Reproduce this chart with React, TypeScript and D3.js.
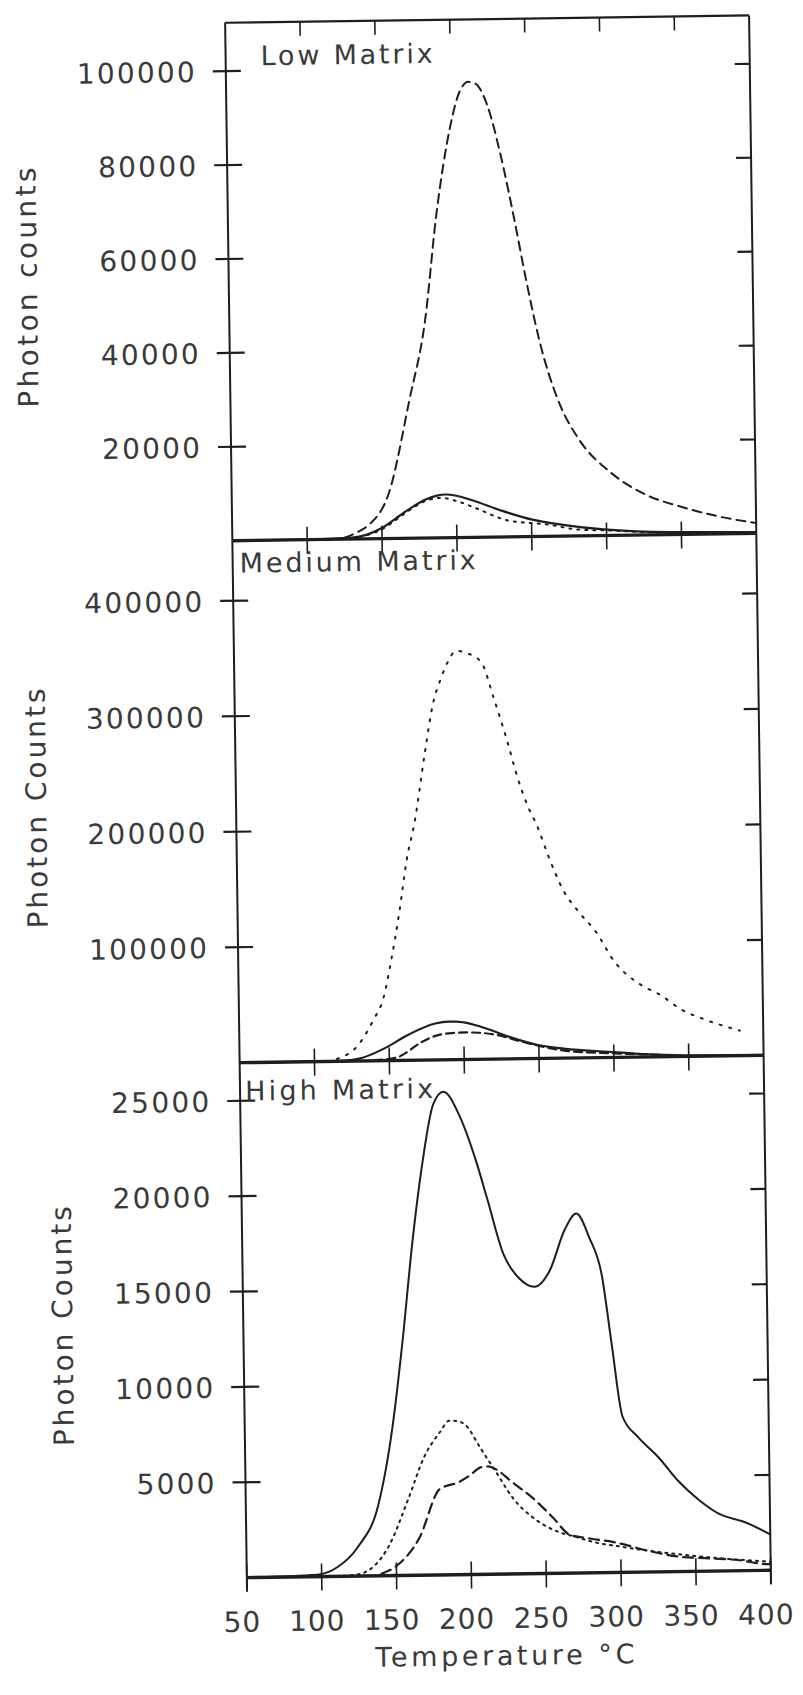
import * as d3 from 'd3';

// temperature (°C) vs photon counts
const lowSolid: [number, number][] = [
  [50, 0], [100, 0], [130, 300], [140, 900], [149.6, 2200], [165, 5500], [178.7, 8100],
  [187, 9000], [193, 9200], [200, 8900], [209.5, 8000], [230, 5600], [250.5, 3600],
  [270.9, 2400], [298.2, 1300], [320, 800], [350, 500], [400, 300],
];
const lowDashed: [number, number][] = [
  [125, 300], [134, 1500], [141, 2900], [155, 9700], [169.6, 29500], [180.7, 46200],
  [189.3, 68900], [199.6, 87900], [206, 95000], [212, 97000], [217, 96500], [223.8, 92400],
  [233.5, 80200], [241.5, 67200], [249.3, 53500], [257.3, 41200], [268.8, 29000],
  [282.3, 20600], [302.6, 13600], [326.4, 8600], [350, 5900], [373.9, 3800], [400, 2200],
];
const lowDotted: [number, number][] = [
  [130, 200], [140, 800], [150, 2000], [165, 5200], [178, 7700], [190, 8500], [200, 7800],
  [213, 6200], [233, 3600], [261, 2500], [280, 1400], [305, 1000], [330, 500], [360, 250],
];

const medSolid: [number, number][] = [
  [50, 0], [100, 0], [120, 500], [130, 2000], [146.5, 10400], [163.6, 22600], [181, 31500],
  [190, 33000], [194.7, 33000], [200, 32200], [211.9, 28000], [232.3, 18200],
  [249.4, 11700], [266.5, 8300], [300.6, 4600], [328, 1900], [350, 800], [400, 500],
];
const medDashed: [number, number][] = [
  [140, 500], [155, 2500], [160, 5600], [170.6, 14800], [181, 20800], [192, 23000],
  [201.5, 23400], [210, 23000], [218.7, 21700], [242.5, 13400], [266, 6700], [300, 3500],
  [325, 2000], [345, 800],
];
const medDotted: [number, number][] = [
  [115, 2000], [129.5, 14000], [139.8, 35500], [146.6, 54000], [151.9, 85000], [158, 128000],
  [163.6, 174500], [169, 205500], [176.7, 267000], [182.3, 307500], [187.6, 329000],
  [193, 345000], [198.2, 354000], [205, 352000], [215, 344000], [223, 313000],
  [231.6, 275600], [238, 244600], [244.5, 219600], [251, 201000], [257.9, 175900],
  [268, 144700], [278.2, 125900], [288.5, 110200], [301.8, 82000], [318, 63100],
  [331.6, 53600], [345, 41000], [362, 31300], [384.4, 21700],
];

const highSolid: [number, number][] = [
  [50, 0], [97, 100], [111, 500], [124.7, 1550], [138.3, 3660], [148.9, 7900], [156, 12150],
  [163.7, 17470], [171.3, 21700], [178.9, 24690], [185.8, 25330], [196.4, 24040],
  [206.9, 21690], [213.8, 19760], [224.4, 16770], [234.8, 15480], [244.8, 15040],
  [255.2, 15880], [265.5, 18000], [273.4, 18840], [282, 17550], [289.8, 15630],
  [295.8, 12000], [302.4, 8170], [312.5, 7090], [326, 6010], [339.4, 4720], [352.7, 3740],
  [366.1, 2990], [383.3, 2540], [400, 1880],
];
const highDashed: [number, number][] = [
  [140, 100], [150, 500], [165.6, 1950], [179.6, 4490], [193.3, 4880], [200, 5200],
  [207.2, 5610], [212, 5650], [217.5, 5490], [227.7, 4840], [241.6, 3970], [255.4, 2890],
  [265.9, 2020], [279.6, 1800], [296.8, 1570], [317.5, 1130], [338.1, 790], [358.6, 670],
  [379.3, 550], [396.4, 330], [400, 320],
];
const highDotted: [number, number][] = [
  [110, 0], [125, 100], [145, 1530], [158.9, 4070], [169.4, 6170], [179.9, 7440],
  [186.9, 8080], [192, 8050], [197.3, 7850], [207.6, 6570], [218, 5280], [228.4, 3980],
  [242.3, 2900], [259.4, 2140], [270, 1900], [280, 1650], [300, 1350], [350, 800], [400, 450],
];

const lowTicks = [20000, 40000, 60000, 80000, 100000];
const medTicks = [100000, 200000, 300000, 400000];
const highTicks = [5000, 10000, 15000, 20000, 25000];
const tempTicks = [50, 100, 150, 200, 250, 300, 350, 400];

const W = 803;
const H = 1695;
const xLeft = 236;
const xRight = 760;
const ink = '#1e1e1e';
const textInk = '#3a3a3a';
const font = 'DejaVu Sans';

const x = d3.scaleLinear().domain([50, 400]).range([xLeft, xRight]);

type Series = { data: [number, number][]; dash?: string; width: number };

const panels = [
  {
    name: 'Low Matrix', nameX: 271, nameY: 62, nameLen: 172,
    yTitle: 'Photon counts', titleX: 34, titleY: 281,
    top: 19, bottom: 537, yMax: 110300, ticks: lowTicks,
    series: [
      { data: lowDotted, dash: '2,6', width: 2 },
      { data: lowDashed, dash: '9,6', width: 2 },
      { data: lowSolid, width: 2.2 },
    ] as Series[],
  },
  {
    name: 'Medium Matrix', nameX: 243, nameY: 569, nameLen: 236,
    yTitle: 'Photon Counts', titleX: 36, titleY: 802,
    top: 537, bottom: 1059, yMax: 452000, ticks: medTicks,
    series: [
      { data: medDotted, dash: '2,8', width: 2 },
      { data: medDashed, dash: '8,5', width: 2.2 },
      { data: medSolid, width: 2.2 },
    ] as Series[],
  },
  {
    name: 'High Matrix', nameX: 241, nameY: 1097, nameLen: 188,
    yTitle: 'Photon Counts', titleX: 55, titleY: 1320,
    top: 1059, bottom: 1574, yMax: 27000, ticks: highTicks,
    series: [
      { data: highDotted, dash: '2,5', width: 2 },
      { data: highDashed, dash: '10,6', width: 2.2 },
      { data: highSolid, width: 2 },
    ] as Series[],
  },
];

export default function App() {
  return (
    <svg width={W} height={H} style={{ position: 'absolute', left: 0, top: 0, display: 'block', background: '#fff' }}>
      <rect width={W} height={H} fill="#fff" />
      {/* the scanned figure sits slightly tilted */}
      <g transform="rotate(-0.8 500 800)" fontFamily={font}>
        {panels.map((p, i) => {
          const y = d3.scaleLinear().domain([0, p.yMax]).range([p.bottom, p.top]);
          const line = d3.line<[number, number]>()
            .x(d => x(d[0]))
            .y(d => y(d[1]))
            .curve(d3.curveMonotoneX);
          const last = i === panels.length - 1;
          return (
            <g key={p.name}>
              {i === 0 && <line x1={xLeft} x2={xRight} y1={p.top} y2={p.top} stroke={ink} strokeWidth={2.2} />}
              <line x1={xLeft} x2={xLeft} y1={p.top} y2={last ? p.bottom + 14 : p.bottom} stroke={ink} strokeWidth={2} />
              <line x1={xRight} x2={xRight} y1={p.top} y2={last ? p.bottom + 14 : p.bottom} stroke={ink} strokeWidth={2} />

              {p.series.map((s, j) => (
                <path key={j} d={line(s.data) ?? ''} fill="none" stroke={ink}
                  strokeWidth={s.width} strokeDasharray={s.dash} strokeLinecap={s.dash === undefined ? 'butt' : 'round'} />
              ))}

              <line x1={xLeft} x2={xRight} y1={p.bottom} y2={p.bottom} stroke={ink} strokeWidth={3.4} />

              {i === 0 && tempTicks.slice(1, -1).map(t => (
                <line key={'tt' + t} x1={x(t)} x2={x(t)} y1={p.top} y2={p.top + 14} stroke={ink} strokeWidth={1.6} />
              ))}
              {(last ? tempTicks : tempTicks.slice(1, -1)).map(t => (
                <line key={'bt' + t} x1={x(t)} x2={x(t)} y1={p.bottom - 13} y2={p.bottom + 14} stroke={ink} strokeWidth={1.6} />
              ))}

              {p.ticks.map(v => (
                <g key={v}>
                  <line x1={xLeft - 13} x2={xLeft + 15} y1={y(v)} y2={y(v)} stroke={ink} strokeWidth={2.2} />
                  <line x1={xRight - 15} x2={xRight} y1={y(v)} y2={y(v)} stroke={ink} strokeWidth={2.2} />
                  <text x={xLeft - 31} y={y(v) + 10.5} textAnchor="end" fontSize={28} fill={textInk}
                    textLength={String(v).length * 20 - 2} lengthAdjust="spacing">{v}</text>
                </g>
              ))}

              <text x={p.nameX} y={p.nameY} fontSize={27} fill={textInk}
                textLength={p.nameLen} lengthAdjust="spacing">{p.name}</text>

              <text transform={`translate(${p.titleX},${p.titleY}) rotate(-90)`} textAnchor="middle"
                dy="0.36em" fontSize={28} fill={textInk} textLength={240} lengthAdjust="spacing">{p.yTitle}</text>
            </g>
          );
        })}

        {tempTicks.map(t => (
          <text key={'xl' + t} x={x(t) - 5} y={1628} textAnchor="middle" fontSize={28} fill={textInk}
            letterSpacing={1}>{t}</text>
        ))}
        <text x={493} y={1665} textAnchor="middle" fontSize={27} fill={textInk}
          textLength={259} lengthAdjust="spacing">Temperature °C</text>
      </g>
    </svg>
  );
}
